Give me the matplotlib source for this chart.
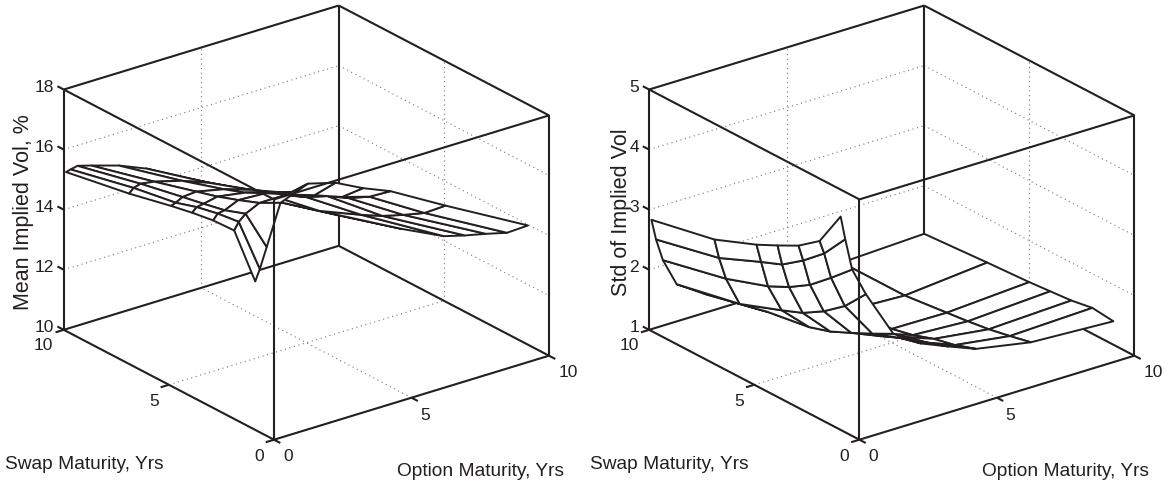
import numpy as np
import matplotlib
matplotlib.use('Agg')
import matplotlib.pyplot as plt
from mpl_toolkits.mplot3d import proj3d

plt.rcParams['font.family'] = ['Liberation Sans', 'DejaVu Sans']

INK = '#231f20'
W, H = 1165, 485

# Grid of maturities (years)
opts = [0.083, 0.25, 0.5, 1, 2, 3, 4, 5, 7, 10]
swaps = [10, 7, 5, 4, 3, 2, 1]

# One row per swap maturity, one column per option maturity
mean_vol = [
    [15.23, 15.27, 15.32, 15.19, 14.91, 14.53, 14.01, 13.50, 12.47, 11.01],
    [15.61, 15.75, 15.82, 15.75, 15.50, 15.15, 14.70, 14.25, 13.10, 11.66],
    [15.93, 15.99, 16.11, 16.15, 15.95, 15.65, 15.25, 14.85, 13.70, 12.15],
    [16.07, 16.21, 16.25, 16.35, 16.20, 15.95, 15.60, 15.25, 14.03, 12.54],
    [16.18, 16.36, 16.40, 16.60, 16.55, 16.30, 16.00, 15.55, 14.43, 12.96],
    [16.21, 16.45, 16.65, 16.87, 16.87, 16.57, 16.23, 15.96, 14.86, 13.36],
    [14.88, 15.25, 15.91, 17.24, 17.60, 17.35, 16.89, 16.51, 15.47, 13.97],
]
std_vol = [
    [2.82, 2.47, 2.09, 1.62, 1.32, 1.18, 1.12, 1.10, 1.14, 1.20],
    [3.04, 2.71, 2.33, 1.84, 1.57, 1.42, 1.27, 1.18, 1.14, 1.27],
    [3.32, 3.01, 2.57, 2.10, 1.68, 1.55, 1.38, 1.23, 1.22, 1.31],
    [3.49, 3.15, 2.74, 2.24, 1.79, 1.67, 1.47, 1.31, 1.26, 1.34],
    [3.67, 3.40, 2.96, 2.45, 1.95, 1.76, 1.60, 1.43, 1.31, 1.37],
    [3.93, 3.70, 3.26, 2.72, 2.12, 1.91, 1.69, 1.51, 1.38, 1.43],
    [4.52, 4.12, 3.58, 3.10, 2.30, 2.00, 1.81, 1.63, 1.46, 1.39],
]

mean_ticks = [10, 12, 14, 16, 18]
std_ticks = [1, 2, 3, 4, 5]
mat_ticks = [0, 5, 10]

ASPECT = (346, 346, 262)


def to_2d(ax, o, s, z):
    x, y, _ = proj3d.proj_transform(o, s, z, ax.get_proj())
    return x, y


def to_px(ax, o, s, z):
    return ax.transData.transform(to_2d(ax, o, s, z))


def seg(ax, a, b, **kw):
    ax.plot([a[0], b[0]], [a[1], b[1]], [a[2], b[2]], **kw)


def draw_panel(values, zticks, zlabel, dx, zlabel_xy):
    S = 640
    ax = fig.add_axes([0.1, 0.1, S / W, S / H], projection='3d')
    ax.patch.set_visible(False)
    ax.computed_zorder = False
    ax.set_proj_type('ortho')
    ax.view_init(elev=23.55, azim=232.6)
    ax.set_axis_off()

    zlo, zhi = zticks[0], zticks[-1]
    edge = dict(color=INK, lw=1.5, solid_capstyle='butt')
    grid = dict(color='#777777', lw=0.8, ls=(0, (1, 3.2)), zorder=1)

    # dotted grid on floor and the two back walls
    for t in [5]:
        seg(ax, (t, 0, zlo), (t, 10, zlo), **grid)
        seg(ax, (0, t, zlo), (10, t, zlo), **grid)
        seg(ax, (t, 10, zlo), (t, 10, zhi), **grid)
        seg(ax, (10, t, zlo), (10, t, zhi), **grid)
    for z in zticks[1:-1]:
        seg(ax, (0, 10, z), (10, 10, z), **grid)
        seg(ax, (10, 10, z), (10, 0, z), **grid)

    # back edges sit behind the surface
    seg(ax, (0, 10, zlo), (10, 10, zlo), zorder=1, **edge)
    seg(ax, (10, 10, zlo), (10, 0, zlo), zorder=1, **edge)
    seg(ax, (10, 10, zlo), (10, 10, zhi), zorder=1, **edge)

    O, K = np.meshgrid(opts, swaps)
    ax.plot_surface(O, K, np.array(values), rstride=1, cstride=1, color='white',
                    edgecolor=INK, linewidth=1.4, shade=False, zorder=2)

    # remaining box edges
    seg(ax, (0, 10, zlo), (0, 0, zlo), zorder=3, **edge)
    seg(ax, (0, 0, zlo), (10, 0, zlo), zorder=3, **edge)
    seg(ax, (0, 10, zhi), (10, 10, zhi), zorder=3, **edge)
    seg(ax, (10, 10, zhi), (10, 0, zhi), zorder=3, **edge)
    seg(ax, (10, 0, zhi), (0, 0, zhi), zorder=3, **edge)
    seg(ax, (0, 0, zhi), (0, 10, zhi), zorder=3, **edge)
    seg(ax, (0, 10, zlo), (0, 10, zhi), zorder=3, **edge)
    seg(ax, (10, 0, zlo), (10, 0, zhi), zorder=3, **edge)
    seg(ax, (0, 0, zlo), (0, 0, zhi), zorder=3, **edge)

    # tick marks
    for z in zticks:
        seg(ax, (0, 10, z), (0, 10.3, z), zorder=3, **edge)
    for t in mat_ticks:
        seg(ax, (0, t, zlo), (-0.3, t, zlo), zorder=3, **edge)
        seg(ax, (t, 0, zlo), (t, -0.3, zlo), zorder=3, **edge)

    ax.set_xlim(0, 10, view_margin=0)
    ax.set_ylim(0, 10, view_margin=0)
    ax.set_zlim(zlo, zhi, view_margin=0)

    # scale and shift so the box lands on the reference corners
    ax.set_box_aspect(ASPECT, zoom=1)
    a = to_px(ax, 0, 0, zlo)
    b = to_px(ax, 10, 0, zlo)
    ax.set_box_aspect(ASPECT, zoom=275.0 / (b[0] - a[0]))
    a = to_px(ax, 0, 0, zlo)
    pos = ax.get_position()
    ax.set_position([pos.x0 + (274 + dx - a[0]) / W,
                     pos.y0 + (H - 440.7 - a[1]) / H,
                     pos.width, pos.height])

    ts = dict(fontsize=12.5, color=INK, annotation_clip=False)
    for z in zticks:
        ax.annotate(str(z), to_2d(ax, 0, 10, z), xytext=(-10, 3.5), textcoords='offset pixels',
                    ha='right', va='center', **ts)
    for t, off in zip(mat_ticks, [(-15, -16), (-15, -16), (-20, -15)]):
        ax.annotate(str(t), to_2d(ax, 0, t, zlo), xytext=off, textcoords='offset pixels',
                    ha='center', va='center', **ts)
    for t, off in zip(mat_ticks, [(14, -16), (13.5, -17), (19, -16)]):
        ax.annotate(str(t), to_2d(ax, t, 0, zlo), xytext=off, textcoords='offset pixels',
                    ha='center', va='center', **ts)

    fig.text(zlabel_xy[0] / W, 1 - zlabel_xy[1] / H, zlabel, rotation=90, fontsize=15.5,
             color=INK, ha='center', va='center')
    fig.text((5 + dx) / W, 1 - 465 / H, 'Swap Maturity, Yrs', fontsize=13.8, color=INK,
             ha='left', va='center')
    fig.text((397 + dx) / W, 1 - 472 / H, 'Option Maturity, Yrs', fontsize=13.8, color=INK,
             ha='left', va='center')
    return ax


fig = plt.figure(figsize=(W / 100, H / 100), dpi=100)

draw_panel(mean_vol, mean_ticks, 'Mean Implied Vol, %', 0, (24, 212))
draw_panel(std_vol, std_ticks, 'Std of Implied Vol', 585.4, (621, 212))

plt.savefig('out.png', dpi=100)
